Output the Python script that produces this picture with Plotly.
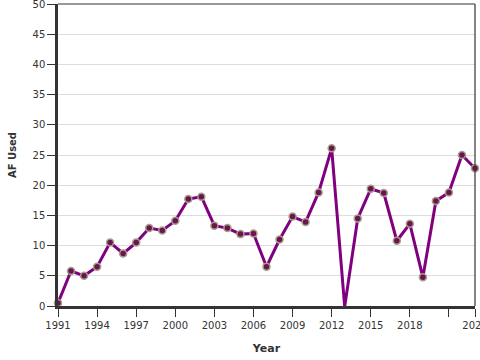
import plotly.graph_objects as go

years = list(range(1991, 2024))
af_used = [0.5, 5.8, 5.0, 6.5, 10.5, 8.7, 10.5, 12.9, 12.5, 14.1,
           17.7, 18.1, 13.3, 12.9, 11.9, 12.0, 6.5, 11.0, 14.8, 13.9,
           18.8, 26.1, -0.1, 14.5, 19.4, 18.7, 10.8, 13.6, 4.75, 17.4,
           18.8, 25.0, 22.8]

x_tickvals = [1991, 1994, 1997, 2000, 2003, 2006, 2009, 2012, 2015, 2018, 2021, 2023]
x_ticktext = ["1991", "1994", "1997", "2000", "2003", "2006", "2009", "2012", "2015", "2018", "", "2023"]
y_tickvals = [0, 5, 10, 15, 20, 25, 30, 35, 40, 45, 50]

fig = go.Figure()
fig.add_trace(go.Scatter(
    x=years, y=af_used, mode="lines+markers",
    line=dict(color="#800080", width=3),
    marker=dict(size=7, color="#6a1454", line=dict(color="#a89f85", width=1.5)),
    cliponaxis=False, hoverinfo="x+y",
))

font = "DejaVu Sans, Verdana, sans-serif"
fig.update_layout(
    width=480, height=360,
    margin=dict(l=58, r=5, t=4, b=54, autoexpand=False),
    paper_bgcolor="white", plot_bgcolor="white",
    showlegend=False,
    font=dict(family=font, size=10, color="#333333"),
    xaxis=dict(
        range=[1991, 2023], tickvals=x_tickvals, ticktext=x_ticktext,
        automargin=False, ticklabeloverflow="allow",
        showgrid=False, zeroline=False,
        showline=True, linecolor="#333333", linewidth=2.5,
        ticks="outside", ticklen=8, tickcolor="#333333", tickwidth=1.2,
        tickfont=dict(size=10, color="#333333"),
        title=dict(text="<b>Year</b>", font=dict(size=11, color="#333333")),
    ),
    yaxis=dict(
        range=[0, 50], tickvals=y_tickvals,
        automargin=False, ticklabeloverflow="allow",
        showgrid=True, gridcolor="#dddddd", gridwidth=1, zeroline=False,
        showline=True, linecolor="#333333", linewidth=2.5,
        ticks="outside", ticklen=8, tickcolor="#333333", tickwidth=1.2,
        tickfont=dict(size=10, color="#333333"),
        title=dict(text="<b>AF Used</b>", font=dict(size=10, color="#333333")),
    ),
    shapes=[
        dict(type="line", xref="paper", yref="paper", x0=0, x1=1, y0=1, y1=1,
             line=dict(color="#333333", width=1.2), layer="above"),
        dict(type="line", xref="paper", yref="paper", x0=1, x1=1, y0=0, y1=1,
             line=dict(color="#333333", width=1.2), layer="above"),
    ],
)

fig.write_html(
    "out.html",
    config={"displayModeBar": False},
    post_script="document.body.style.margin='0';document.body.style.overflow='hidden';",
)
